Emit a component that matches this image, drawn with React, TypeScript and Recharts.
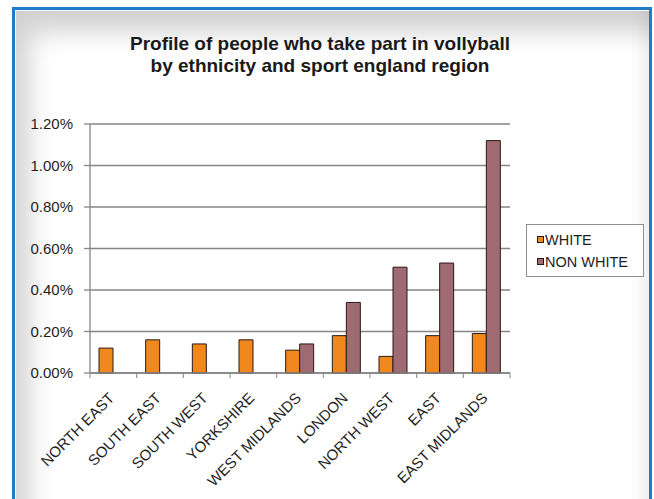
import React from 'react';
import { BarChart, Bar, XAxis, YAxis, CartesianGrid, Legend } from 'recharts';

// Share of people taking part in volleyball, by Sport England region (percent)
const regions = [
  'NORTH EAST',
  'SOUTH EAST',
  'SOUTH WEST',
  'YORKSHIRE',
  'WEST MIDLANDS',
  'LONDON',
  'NORTH WEST',
  'EAST',
  'EAST MIDLANDS',
];
const whiteShare = [0.12, 0.16, 0.14, 0.16, 0.11, 0.18, 0.08, 0.18, 0.19];
const nonWhiteShare: (number | null)[] = [null, null, null, null, 0.14, 0.34, 0.51, 0.53, 1.12];
const yTicks = [0, 0.2, 0.4, 0.6, 0.8, 1.0, 1.2];
const seriesNames = ['WHITE', 'NON WHITE'];
const titleLines = [
  'Profile of people who take part in vollyball',
  'by ethnicity and sport england region',
];

const data = regions.map((region, i) => ({
  region,
  white: whiteShare[i],
  nonWhite: nonWhiteShare[i],
}));

const FONT = '"Liberation Sans", Arial, Helvetica, sans-serif';
const CHART_W = 654;
const CHART_H = 499;
const MARGIN = { top: 124, right: 144, bottom: 16, left: 20 };
const Y_AXIS_W = 70;
const PLOT_W = CHART_W - MARGIN.left - MARGIN.right - Y_AXIS_W;
const HALF_BAND = PLOT_W / regions.length / 2;

const WHITE_COLOR = '#F0881E';
const NON_WHITE_COLOR = '#A06A72';
const BAR_EDGE = '#2a1a16';
const GRID_COLOR = '#858585';

// Category label rotated 45deg, with tick marks on the category boundaries
function RegionTick(props: any) {
  const { x, y, payload, index } = props;
  const isLast = index === regions.length - 1;
  const tx = x + 2;
  const ty = y + 26;
  return (
    <g>
      <line x1={x - HALF_BAND} y1={y} x2={x - HALF_BAND} y2={y + 5} stroke={GRID_COLOR} strokeWidth={1} />
      {isLast && (
        <line x1={x + HALF_BAND} y1={y} x2={x + HALF_BAND} y2={y + 5} stroke={GRID_COLOR} strokeWidth={1} />
      )}
      <text
        x={tx}
        y={ty}
        transform={`rotate(-45, ${tx}, ${ty})`}
        textAnchor="end"
        fontFamily={FONT}
        fontSize={15}
        fill="#1e1e1e"
      >
        {payload.value}
      </text>
    </g>
  );
}

function LegendBox(props: any) {
  const items = [...(props.payload || [])].sort(
    (a: any, b: any) => seriesNames.indexOf(a.value) - seriesNames.indexOf(b.value)
  );
  return (
    <div
      style={{
        border: '1px solid #8f8f8f',
        background: '#fff',
        padding: '3px 0 4px 10px',
        fontFamily: FONT,
        fontSize: 14.5,
        color: '#1e1e1e',
        boxSizing: 'border-box',
        width: 118,
        textAlign: 'left',
      }}
    >
      {items.map((item: any) => (
        <div key={item.value} style={{ display: 'flex', alignItems: 'center', height: 21, marginTop: 1 }}>
          <span
            style={{
              display: 'inline-block',
              width: 5,
              height: 5,
              background: item.color,
              border: `1px solid ${BAR_EDGE}`,
              marginRight: 1,
            }}
          />
          <span>{item.value}</span>
        </div>
      ))}
    </div>
  );
}

export default function App() {
  return (
    <div
      style={{
        position: 'absolute',
        left: 0,
        top: 0,
        width: CHART_W,
        height: CHART_H,
        background: '#fff',
        overflow: 'hidden',
      }}
    >
      {/* framed panel */}
      <div
        style={{
          position: 'absolute',
          left: 12,
          top: 7,
          width: 640,
          height: 520,
          boxSizing: 'border-box',
          borderLeft: '3px solid #1F7DC8',
          borderTop: '3px solid #1F7DC8',
          borderRight: '3px solid #1F7DC8',
          background: '#fff',
          boxShadow:
            'inset 0 1px 0 #fff, inset 1px 0 0 #fff, inset 24px 32px 26px -10px rgba(0,0,0,0.18), inset -12px 0 14px -6px rgba(0,0,0,0.08)',
        }}
      />
      <div
        style={{
          position: 'absolute',
          left: 0,
          top: 33,
          width: 640,
          textAlign: 'center',
          fontFamily: FONT,
          fontWeight: 'bold',
          fontSize: 19,
          lineHeight: '22px',
          color: '#1a1a1a',
        }}
      >
        {titleLines.map((t) => (
          <div key={t}>{t}</div>
        ))}
      </div>
      <div style={{ position: 'absolute', left: 0, top: 0 }}>
        <BarChart
          width={CHART_W}
          height={CHART_H}
          data={data}
          margin={MARGIN}
          barSize={14}
          barGap={0}
        >
          <CartesianGrid vertical={false} stroke={GRID_COLOR} strokeWidth={1.4} />
          <XAxis
            dataKey="region"
            interval={0}
            height={110}
            tickLine={false}
            tickSize={0}
            tickMargin={0}
            axisLine={{ stroke: GRID_COLOR, strokeWidth: 1.3 }}
            tick={<RegionTick />}
          />
          <YAxis
            width={Y_AXIS_W}
            domain={[0, 1.2]}
            ticks={yTicks}
            tickFormatter={(v: number) => `${v.toFixed(2)}%`}
            tick={{ fontFamily: FONT, fontSize: 15, fill: '#1e1e1e' }}
            tickSize={6}
            tickMargin={11}
            axisLine={{ stroke: GRID_COLOR, strokeWidth: 1.3 }}
            tickLine={{ stroke: GRID_COLOR, strokeWidth: 1.3 }}
          />
          <YAxis
            yAxisId="frame"
            orientation="right"
            width={0}
            domain={[0, 1.2]}
            tick={false}
            tickLine={false}
            axisLine={{ stroke: '#a0a0a0', strokeWidth: 1.3 }}
          />
          <Legend
            layout="vertical"
            verticalAlign="middle"
            align="center"
            content={<LegendBox />}
            wrapperStyle={{ position: 'absolute', left: 526, top: 224, width: 118 }}
          />
          <Bar
            dataKey="white"
            name="WHITE"
            fill={WHITE_COLOR}
            stroke={BAR_EDGE}
            strokeWidth={1}
            isAnimationActive={false}
          />
          <Bar
            dataKey="nonWhite"
            name="NON WHITE"
            fill={NON_WHITE_COLOR}
            stroke={BAR_EDGE}
            strokeWidth={1}
            isAnimationActive={false}
          />
        </BarChart>
      </div>
    </div>
  );
}
